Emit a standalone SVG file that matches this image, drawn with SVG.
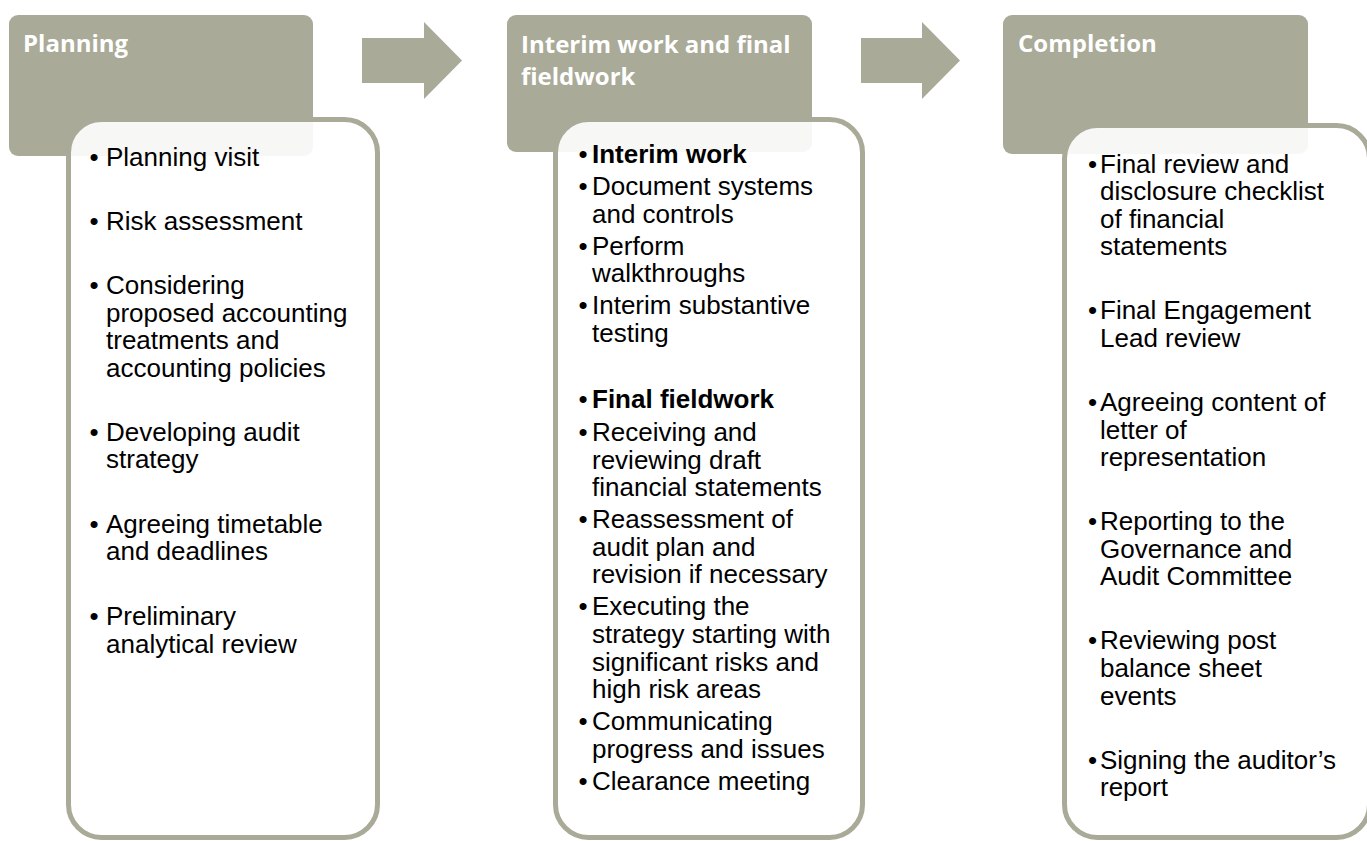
<svg xmlns="http://www.w3.org/2000/svg" width="1367" height="841" viewBox="0 0 1367 841">
  <style>
    .hdr { fill: #a9aa97; }
    .hdr-text { font-family: "Open Sans", "Liberation Sans", sans-serif; font-weight: 700; font-size: 24px; fill: #ffffff; }
    .card { fill: #ffffff; fill-opacity: 0.9; stroke: #a9aa97; stroke-width: 5; }
    .item { font-family: "Liberation Sans", Arial, sans-serif; font-size: 26px; fill: #000000; }
    .b { font-weight: 700; }
    .arrow { fill: #a9aa97; }
  </style>

  <!-- flow arrows between stages -->
  <g id="connectors">
    <polygon class="arrow" points="362,38 424,38 424,22 462,60.5 424,99 424,83 362,83"/>
    <polygon class="arrow" points="861,38 922,38 922,22 960,60.5 922,99 922,83 861,83"/>
  </g>

  <!-- Stage 1 -->
  <g id="planning">
    <rect class="hdr" x="9" y="15" width="304" height="141" rx="9"/>
    <text class="hdr-text" x="23" y="52">Planning</text>
    <rect class="card" x="68.5" y="119.5" width="309" height="718" rx="33"/>
    <g class="item">
      <text x="89.5" y="165.7">•</text><text x="106" y="165.7">Planning visit</text>
      <text x="89.5" y="229.5">•</text><text x="106" y="229.5">Risk assessment</text>
      <text x="89.5" y="294">•</text><text x="106" y="294">Considering</text>
      <text x="106" y="321.6">proposed accounting</text>
      <text x="106" y="349.2">treatments and</text>
      <text x="106" y="376.8">accounting policies</text>
      <text x="89.5" y="440.5">•</text><text x="106" y="440.5">Developing audit</text>
      <text x="106" y="468">strategy</text>
      <text x="89.5" y="532.5">•</text><text x="106" y="532.5">Agreeing timetable</text>
      <text x="106" y="560">and deadlines</text>
      <text x="89.5" y="625">•</text><text x="106" y="625">Preliminary</text>
      <text x="106" y="652.6">analytical review</text>
    </g>
  </g>

  <!-- Stage 2 -->
  <g id="interim-final">
    <rect class="hdr" x="507" y="15" width="305" height="137" rx="9"/>
    <text class="hdr-text" x="521" y="53">Interim work and final</text>
    <text class="hdr-text" x="521" y="85">fieldwork</text>
    <rect class="card" x="555.5" y="119.5" width="307" height="718" rx="33"/>
    <g class="item">
      <text x="578.5" y="163">•</text><text class="b" x="592" y="163">Interim work</text>
      <text x="578.5" y="195">•</text><text x="592" y="195">Document systems</text>
      <text x="592" y="222.6">and controls</text>
      <text x="578.5" y="254.6">•</text><text x="592" y="254.6">Perform</text>
      <text x="592" y="282.2">walkthroughs</text>
      <text x="578.5" y="314.2">•</text><text x="592" y="314.2">Interim substantive</text>
      <text x="592" y="341.8">testing</text>
      <text x="578.5" y="408">•</text><text class="b" x="592" y="408">Final fieldwork</text>
      <text x="578.5" y="441">•</text><text x="592" y="441">Receiving and</text>
      <text x="592" y="468.6">reviewing draft</text>
      <text x="592" y="496.2">financial statements</text>
      <text x="578.5" y="528.2">•</text><text x="592" y="528.2">Reassessment of</text>
      <text x="592" y="555.8">audit plan and</text>
      <text x="592" y="583.4">revision if necessary</text>
      <text x="578.5" y="615.4">•</text><text x="592" y="615.4">Executing the</text>
      <text x="592" y="643">strategy starting with</text>
      <text x="592" y="670.6">significant risks and</text>
      <text x="592" y="698.2">high risk areas</text>
      <text x="578.5" y="730.2">•</text><text x="592" y="730.2">Communicating</text>
      <text x="592" y="757.8">progress and issues</text>
      <text x="578.5" y="789.8">•</text><text x="592" y="789.8">Clearance meeting</text>
    </g>
  </g>

  <!-- Stage 3 -->
  <g id="completion">
    <rect class="hdr" x="1003" y="15" width="305" height="139" rx="9"/>
    <text class="hdr-text" x="1018" y="52">Completion</text>
    <rect class="card" x="1064.5" y="125.5" width="305" height="712" rx="33"/>
    <g class="item">
      <text x="1088" y="172.5">•</text><text x="1100" y="172.5">Final review and</text>
      <text x="1100" y="200.1">disclosure checklist</text>
      <text x="1100" y="227.7">of financial</text>
      <text x="1100" y="255.3">statements</text>
      <text x="1088" y="319.3">•</text><text x="1100" y="319.3">Final Engagement</text>
      <text x="1100" y="346.9">Lead review</text>
      <text x="1088" y="410.9">•</text><text x="1100" y="410.9">Agreeing content of</text>
      <text x="1100" y="438.5">letter of</text>
      <text x="1100" y="466.1">representation</text>
      <text x="1088" y="530.1">•</text><text x="1100" y="530.1">Reporting to the</text>
      <text x="1100" y="557.7">Governance and</text>
      <text x="1100" y="585.3">Audit Committee</text>
      <text x="1088" y="649.3">•</text><text x="1100" y="649.3">Reviewing post</text>
      <text x="1100" y="676.9">balance sheet</text>
      <text x="1100" y="704.5">events</text>
      <text x="1088" y="768.5">•</text><text x="1100" y="768.5">Signing the auditor’s</text>
      <text x="1100" y="796.1">report</text>
    </g>
  </g>
</svg>
